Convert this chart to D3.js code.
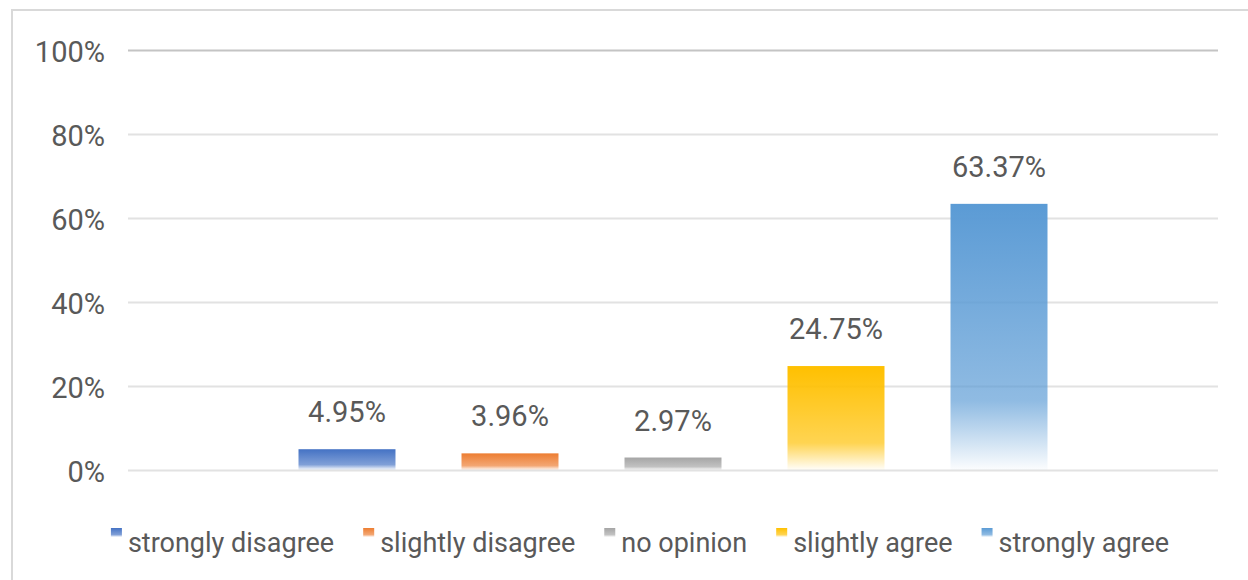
<!DOCTYPE html>
<html>
<head>
<meta charset="utf-8">
<script src="https://cdn.jsdelivr.net/npm/d3@7"></script>
<style>
  body { margin: 0; background: #fff; }
  svg text { font-family: Roboto, "Noto Sans", sans-serif; fill: #595959; }
</style>
</head>
<body>
<script>
var width = 1248;
var height = 580;

var margin = {top: 50, left: 128, right: 30, bottom: 110};

// data
var categories = ["strongly disagree", "slightly disagree", "no opinion", "slightly agree", "strongly agree"];
var values = [4.95, 3.96, 2.97, 24.75, 63.37];
var yTicks = [0, 20, 40, 60, 80, 100];
var colors = ["#4472C4", "#ED7D31", "#A5A5A5", "#FFC000", "#5B9BD5"];

var svg = d3.select("body")
  .append("svg")
  .attr("width", width)
  .attr("height", height);

// outer frame
svg.append("rect")
  .attr("x", 12)
  .attr("y", 10)
  .attr("width", width)
  .attr("height", height)
  .attr("fill", "none")
  .attr("stroke", "#d9d9d9")
  .attr("stroke-width", 2);

// gradients
var defs = svg.append("defs");
categories.forEach(function(c, i) {
  var g = defs.append("linearGradient")
    .attr("id", "grad" + i)
    .attr("x1", 0).attr("y1", 0)
    .attr("x2", 0).attr("y2", 1);
  g.append("stop").attr("offset", "0%").attr("stop-color", colors[i]).attr("stop-opacity", 1);
  g.append("stop").attr("offset", "74%").attr("stop-color", colors[i]).attr("stop-opacity", 0.68);
  g.append("stop").attr("offset", "100%").attr("stop-color", colors[i]).attr("stop-opacity", 0.02);
});

var plotRight = width - margin.right;

var xScale = d3.scaleBand()
  .domain(categories)
  .range([margin.left, plotRight])
  .paddingInner(0.405)
  .paddingOuter(1.046);

var yScale = d3.scaleLinear()
  .domain([0, 100])
  .range([470, margin.top]);

var yAxis = svg.append("g")
  .attr("transform", "translate(" + margin.left + ",0)")
  .call(d3.axisLeft(yScale)
    .tickValues(yTicks)
    .tickSize(-(plotRight - margin.left))
    .tickPadding(23)
    .tickFormat(function(d) { return d + "%"; }));

yAxis.select(".domain").remove();
yAxis.selectAll(".tick line")
  .attr("stroke", function(d) { return d === 100 ? "#c4c4c4" : "#e2e2e2"; })
  .attr("stroke-width", 2);
yAxis.selectAll(".tick text")
  .attr("font-size", 29)
  .attr("dy", "0.38em")
  .attr("fill", "#595959");

// bars
svg.selectAll(".bar")
  .data(values)
  .enter()
  .append("rect")
    .attr("class", "bar")
    .attr("x", function(d, i) { return xScale(categories[i]); })
    .attr("y", function(d) { return yScale(d); })
    .attr("width", xScale.bandwidth())
    .attr("height", function(d) { return yScale(0) - yScale(d); })
    .attr("fill", function(d, i) { return "url(#grad" + i + ")"; });

// value labels
svg.selectAll(".label")
  .data(values)
  .enter()
  .append("text")
    .attr("class", "label")
    .attr("x", function(d, i) { return xScale(categories[i]) + xScale.bandwidth() / 2; })
    .attr("y", function(d) { return yScale(d) - 27; })
    .attr("text-anchor", "middle")
    .attr("font-size", 29)
    .text(function(d) { return d.toFixed(2) + "%"; });

// legend
var legend = svg.append("g");
var legendY = 543;
var gap = 29;
var items = legend.selectAll(".item")
  .data(categories)
  .enter()
  .append("g")
    .attr("class", "item");

items.append("rect")
  .attr("width", 11)
  .attr("height", 9)
  .attr("y", legendY - 15)
  .attr("fill", function(d, i) { return "url(#grad" + i + ")"; });

items.append("text")
  .attr("x", 17)
  .attr("y", legendY)
  .attr("dy", "0.35em")
  .attr("font-size", 27)
  .text(function(d) { return d; });

var pos = 0;
var offsets = [];
items.each(function() {
  offsets.push(pos);
  var w = d3.select(this).select("text").node().getComputedTextLength();
  pos += 17 + w + gap;
});
var total = pos - gap;
var startX = 640 - total / 2;
items.attr("transform", function(d, i) { return "translate(" + (startX + offsets[i]) + ",0)"; });
</script>
</body>
</html>
